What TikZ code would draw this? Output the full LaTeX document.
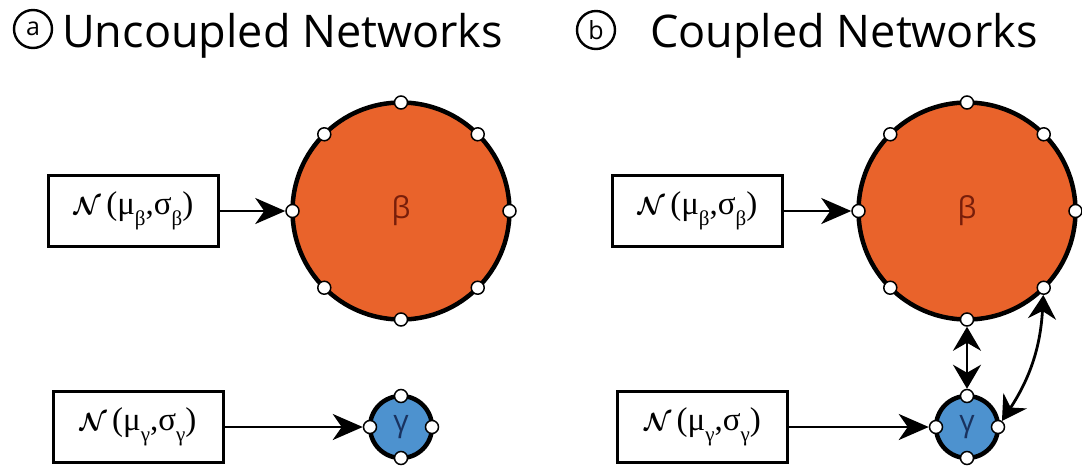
\documentclass[tikz,border=0pt]{standalone}
\usepackage{fontspec}
\setmainfont{Open Sans}
\newfontfamily\greekserif{Liberation Serif}
\usepackage{bm}
\usetikzlibrary{arrows.meta}
\definecolor{netorange}{RGB}{233,99,43}
\definecolor{netblue}{RGB}{77,146,207}
\definecolor{betatext}{RGB}{120,30,10}
\definecolor{gammatext}{RGB}{25,50,95}
\newcommand{\dsub}[1]{\raisebox{-0.32em}{\fontsize{21}{22}\selectfont #1}}
\tikzset{
  net/.style={circle, draw=black, line width=4.5pt, inner sep=0pt, font=\fontsize{30}{32}\selectfont},
  port/.style={circle, draw=black, fill=white, line width=1.5pt, minimum size=13pt, inner sep=0pt},
  dist/.style={draw=black, line width=3pt, minimum width=170pt, minimum height=71pt, inner sep=0pt,
    font=\greekserif\fontsize{33}{36}\selectfont},
  feed/.style={line width=2.8pt, -{Stealth[length=30pt,width=26pt,inset=9pt]}},
  couple/.style={line width=2.8pt, {Stealth[length=24pt,width=28pt,inset=8pt]}-{Stealth[length=24pt,width=28pt,inset=8pt]}},
  tag/.style={circle, draw=black, line width=2.4pt, minimum size=38pt, inner sep=0pt, font=\fontsize{25}{28}\selectfont},
  headline/.style={anchor=base west, inner sep=0pt, font=\fontsize{45}{50}\selectfont}
}
\begin{document}
\begin{tikzpicture}[x=1pt, y=1pt]
  \useasboundingbox (0,0) rectangle (1082,-467);

  % Titles
  \node[tag] (taga) at (33,-29) {a};
  \node[headline] (titlea) at (62,-47) {Uncoupled Networks};
  \node[tag] (tagb) at (596,-30) {b};
  \node[headline] (titleb) at (650,-47) {Coupled Networks};

  % (a) beta network
  \node[net, fill=netorange, text=betatext, minimum size=217pt] (ba) at (401,-211) {β};
  \foreach \a in {0,45,...,315}
    \node[port] (ba\a) at ([shift={(\a:108.5)}]ba.center) {};
  \node[dist] (da) at (133.5,-211) {$\bm{\mathcal{N}}$\,(μ\dsub{β},σ\dsub{β})};
  \draw[feed] (da) -- (ba180);

  % (a) gamma network
  \node[net, fill=netblue, text=gammatext, minimum size=62pt] (ga) at (401,-427) {γ};
  \foreach \a in {0,90,...,270}
    \node[port] (ga\a) at ([shift={(\a:31)}]ga.center) {};
  \node[dist] (ea) at (138,-427) {$\bm{\mathcal{N}}$\,(μ\dsub{γ},σ\dsub{γ})};
  \draw[feed] (ea) -- (ga180);

  % (b) beta network
  \node[net, fill=netorange, text=betatext, minimum size=217pt] (bb) at (967,-211) {β};
  \foreach \a in {0,45,...,315}
    \node[port] (bb\a) at ([shift={(\a:108.5)}]bb.center) {};
  \node[dist] (db) at (697.5,-211) {$\bm{\mathcal{N}}$\,(μ\dsub{β},σ\dsub{β})};
  \draw[feed] (db) -- (bb180);

  % (b) gamma network
  \node[net, fill=netblue, text=gammatext, minimum size=62pt] (gb) at (967,-427) {γ};
  \foreach \a in {0,90,...,270}
    \node[port] (gb\a) at ([shift={(\a:31)}]gb.center) {};
  \node[dist] (eb) at (702.5,-427) {$\bm{\mathcal{N}}$\,(μ\dsub{γ},σ\dsub{γ})};
  \draw[feed] (eb) -- (gb180);

  % Coupling
  \draw[couple] (bb270) -- (gb90);
  \draw[couple] (bb315) to[bend left=15] (gb0);
\end{tikzpicture}
\end{document}
